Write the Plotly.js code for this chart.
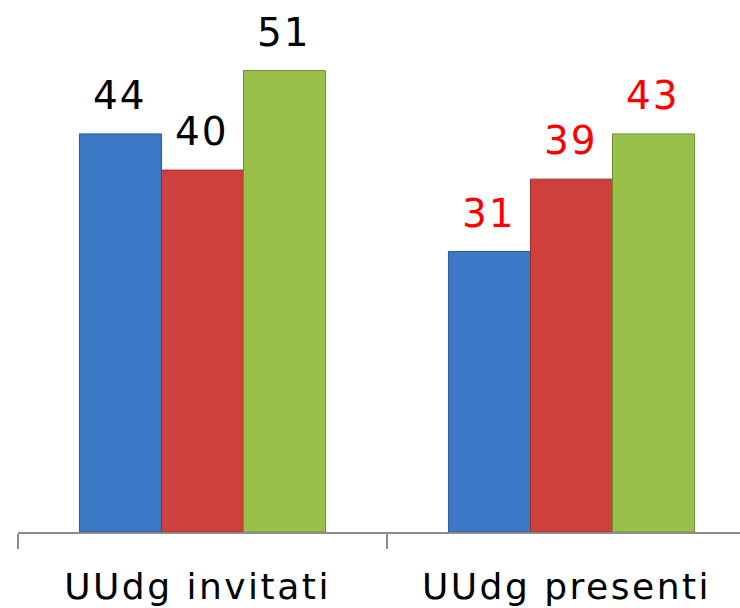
<!DOCTYPE html>
<html>
<head>
<meta charset="utf-8">
<script src="https://cdn.plot.ly/plotly-3.0.1.min.js"></script>
<style>
html,body{margin:0;padding:0;background:#fff;}
#chart{width:740px;height:608px;}
#chart .xtick text{letter-spacing:2.5px;}
#chart .annotation-text{letter-spacing:2px;}
</style>
</head>
<body>
<div id="chart"></div>
<script>
// Data
const categories = ["UUdg invitati", "UUdg presenti"];
const seriesBlue = [44, 31];
const seriesRed = [40, 39];
const seriesGreen = [51, 44];          // bar heights as drawn
const labelsBlue = ["44", "31"];
const labelsRed = ["40", "39"];
const labelsGreen = ["51", "43"];       // value labels as printed
const labelColors = ["#000000", "#ff0000"];

const series = [
  {y: seriesBlue, labels: labelsBlue, color: "#3c78c6", line: "#2a5a9a", shift: -83},
  {y: seriesRed, labels: labelsRed, color: "#cf403d", line: "#9a2e2c", shift: -1},
  {y: seriesGreen, labels: labelsGreen, color: "#99c14a", line: "#6f8f32", shift: 81}
];

const traces = series.map(s => ({
  type: "bar",
  x: categories,
  y: s.y,
  marker: {color: s.color, line: {color: s.line, width: 1}},
  hoverinfo: "skip"
}));

const annotations = [];
series.forEach(s => {
  categories.forEach((c, i) => {
    annotations.push({
      x: c, y: s.y[i], xref: "x", yref: "y",
      text: s.labels[i], showarrow: false,
      xshift: s.shift, yshift: 14, yanchor: "bottom",
      font: {family: "DejaVu Sans", size: 39, color: labelColors[i]}
    });
  });
});

const layout = {
  width: 740, height: 608,
  margin: {l: 18, r: 0, t: 0, b: 76},
  paper_bgcolor: "#ffffff", plot_bgcolor: "#ffffff",
  showlegend: false,
  barmode: "group",
  bargap: 0.333, bargroupgap: 0,
  xaxis: {
    type: "category",
    range: [-0.5, 1.4566],
    showline: true, linecolor: "#8c8c8c", linewidth: 1.5,
    ticks: "outside", tickson: "boundaries", ticklen: 15, tickcolor: "#8c8c8c", tickwidth: 1.5,
    ticklabelstandoff: 22, ticklabelshift: -5,
    tickfont: {family: "DejaVu Sans", size: 36, color: "#000000"},
    showgrid: false, zeroline: false, fixedrange: true
  },
  yaxis: {
    range: [0, 58.8],
    visible: false, showgrid: false, zeroline: false, fixedrange: true
  },
  annotations: annotations
};

Plotly.newPlot("chart", traces, layout, {displayModeBar: false, staticPlot: true});
</script>
</body>
</html>
